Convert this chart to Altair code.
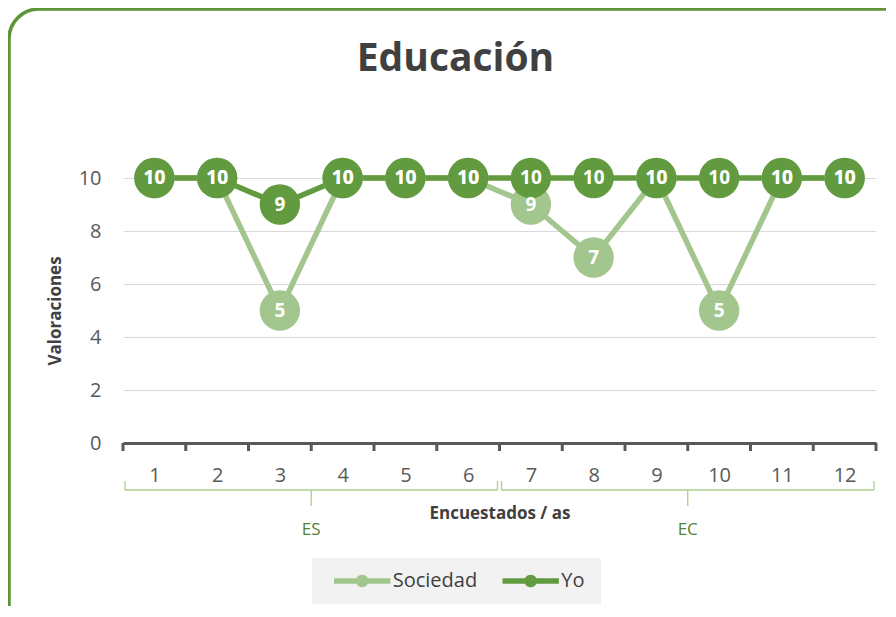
import altair as alt
import pandas as pd

# ---- data ----
encuestados = list(range(1, 13))
sociedad = [10, 10, 5, 10, 10, 10, 9, 7, 10, 5, 10, 10]
yo = [10, 10, 9, 10, 10, 10, 10, 10, 10, 10, 10, 10]
series_names = ["Sociedad", "Yo"]
series_colors = ["#A3C68F", "#629B3F"]
group_names = ["ES", "EC"]
group_start = [0.5, 6.5]
group_end = [6.5, 12.5]
y_ticks = [0, 2, 4, 6, 8, 10]

rows = []
for k, (s, vals) in enumerate(zip(series_names, [sociedad, yo])):
    for e, v in zip(encuestados, vals):
        rows.append({"Encuestado": e, "Valor": v, "Serie": s, "orden": k})
df = pd.DataFrame(rows)

groups = pd.DataFrame({"grupo": group_names, "ini": group_start, "fin": group_end})
groups["mid"] = (groups["ini"] + groups["fin"]) / 2

bounds_df = pd.DataFrame({"b": [e - 0.5 for e in encuestados] + [encuestados[-1] + 0.5]})
one = pd.DataFrame({"k": [0]})

FONT = "Open Sans"
AXIS_GREY = "#595959"
xscale = alt.Scale(domain=[0.5, 12.5], nice=False, zero=False)
yscale = alt.Scale(domain=[0, 10], nice=False)
cscale = alt.Scale(domain=series_names, range=series_colors)

x_axis = alt.Axis(
    values=encuestados, format="d",
    ticks=False, tickSize=0,
    domainColor=AXIS_GREY, domainWidth=3,
    labelFontSize=20, labelColor=AXIS_GREY, labelPadding=22,
    labelFlush=False, grid=False,
    title="Encuestados / as", titleFontSize=17, titleFontWeight="bold",
    titleColor="#404040", titlePadding=20,
)
y_axis = alt.Axis(
    values=y_ticks, grid=True, gridColor="#D9D9D9", gridWidth=1,
    domain=False, ticks=False, tickSize=0,
    labelFontSize=20, labelColor=AXIS_GREY, labelPadding=22,
    title="Valoraciones", titleFontSize=17, titleFontWeight="bold",
    titleColor="#404040", titlePadding=14,
)

border = alt.Chart(one).mark_rect(
    fillOpacity=0, stroke="#5E9538", strokeWidth=3.5, cornerRadius=30
).encode(x=alt.value(-114), x2=alt.value(800), y=alt.value(-169), y2=alt.value(500))

legend_bg = alt.Chart(one).mark_rect(fill="#F2F2F2").encode(
    x=alt.value(189), x2=alt.value(478), y=alt.value(380), y2=alt.value(426)
)

tick_marks = alt.Chart(bounds_df).mark_rule(color=AXIS_GREY, strokeWidth=3).encode(
    x=alt.X("b:Q", scale=xscale, axis=x_axis), y=alt.value(265), y2=alt.value(273)
)

bracket_color = "#A9D18E"
g = alt.Chart(groups)
b_h = g.mark_rule(color=bracket_color, strokeWidth=1.3, xOffset=2, x2Offset=-2).encode(
    x=alt.X("ini:Q", scale=xscale, axis=x_axis), x2="fin:Q", y=alt.value(312)
)
b_l = g.mark_rule(color=bracket_color, strokeWidth=1.3, xOffset=2).encode(
    x=alt.X("ini:Q", scale=xscale, axis=x_axis), y=alt.value(303), y2=alt.value(312)
)
b_r = g.mark_rule(color=bracket_color, strokeWidth=1.3, xOffset=-2).encode(
    x=alt.X("fin:Q", scale=xscale, axis=x_axis), y=alt.value(303), y2=alt.value(312)
)
b_c = g.mark_rule(color=bracket_color, strokeWidth=1.3).encode(
    x=alt.X("mid:Q", scale=xscale, axis=x_axis), y=alt.value(312), y2=alt.value(328)
)
b_t = g.mark_text(color="#548235", fontSize=17, baseline="middle").encode(
    x=alt.X("mid:Q", scale=xscale, axis=x_axis), y=alt.value(352), text="grupo:N"
)

base = alt.Chart(df)
X = alt.X("Encuestado:Q", scale=xscale, axis=x_axis)
Y = alt.Y("Valor:Q", scale=yscale, axis=y_axis)

line_layers = [
    base.transform_filter(alt.datum.Serie == name).mark_line(strokeWidth=5.5, color=col).encode(
        x=X, y=Y, order=alt.Order("Encuestado:Q"),
    )
    for name, col in zip(series_names, series_colors)
]

sym_path = ("M-4.7,-0.45 L4.7,-0.45 L4.7,0.45 L-4.7,0.45 Z "
            "M-1.05,0 A1.05,1.05 0 1,1 1.05,0 A1.05,1.05 0 1,1 -1.05,0 Z")
points = base.mark_circle(size=1630, opacity=1).encode(
    x=X, y=Y,
    color=alt.Color("Serie:N", scale=cscale, legend=alt.Legend(
        title=None, orient="none", legendX=229.2, legendY=393,
        direction="horizontal", symbolType=sym_path, symbolSize=144,
        symbolStrokeWidth=0, labelFontSize=20, zindex=2,
        labelColor="#404040", labelOffset=20.5, columnPadding=24.5,
    )),
    order=alt.Order("orden:Q"),
)
labels = base.mark_text(color="white", fontWeight="bold", fontSize=19, baseline="middle").encode(
    x=X, y=Y, text="Valor:Q", order=alt.Order("orden:Q"),
)

chart = alt.layer(
    border, legend_bg, tick_marks, b_h, b_l, b_r, b_c, b_t, *line_layers, points, labels
).properties(
    width=753, height=265,
    autosize=alt.AutoSizeParams(type="none"),
    padding={"left": 115, "top": 170, "right": 10, "bottom": 163},
    title=alt.Title("Educación", fontSize=39, fontWeight="bold", color="#404040",
                    anchor="middle", dx=-44, offset=-72, font=FONT),
).configure(font=FONT, background="white").configure_view(stroke=None)

chart.save("out.html", embed_options={"renderer": "svg", "actions": False})
